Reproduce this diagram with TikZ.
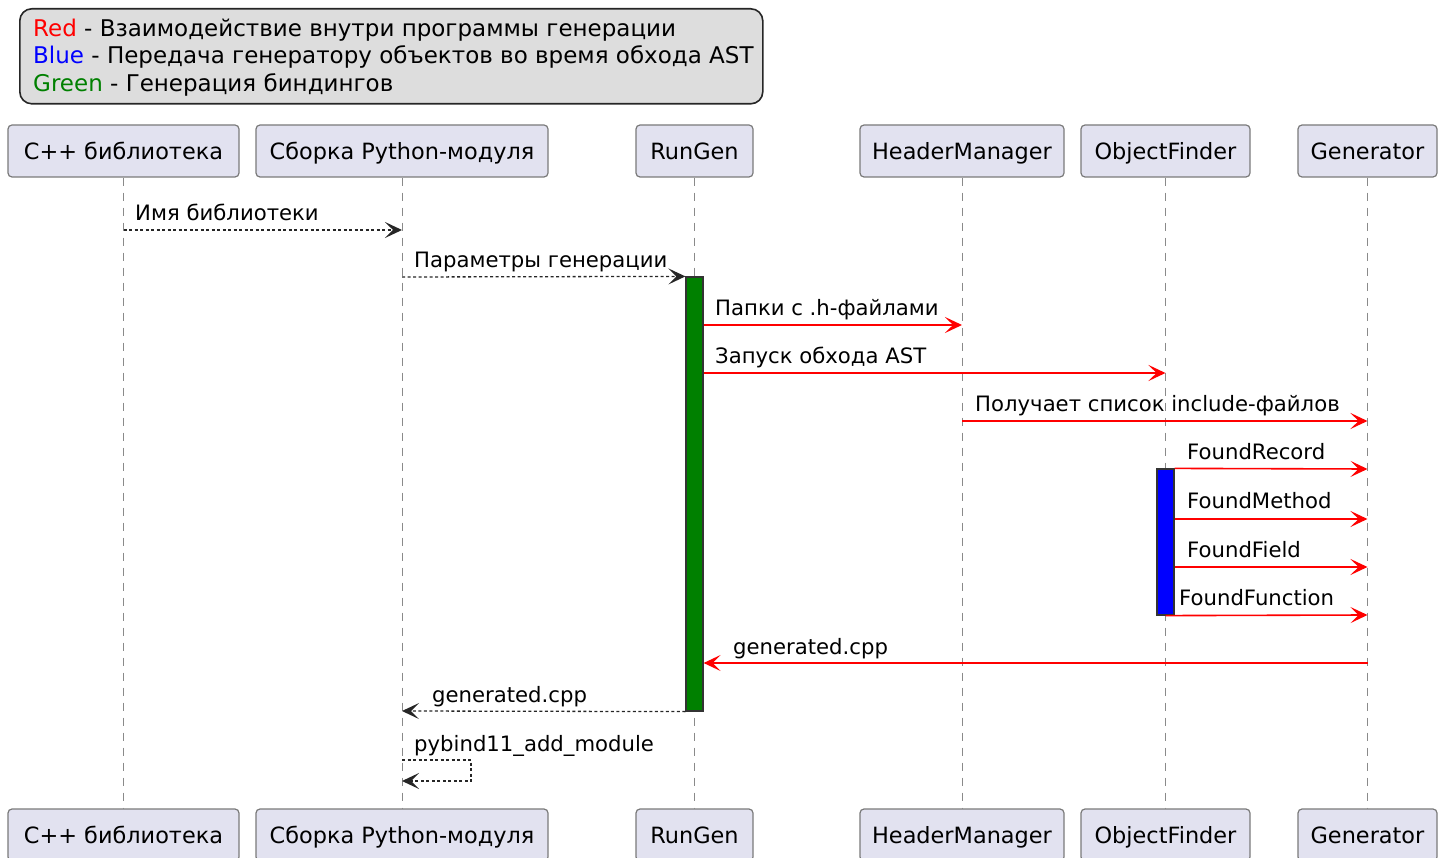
\documentclass[tikz,border=0pt]{standalone}
\usepackage{fontspec}
\setmainfont{DejaVu Sans}
\usetikzlibrary{arrows.meta}
\definecolor{partfill}{HTML}{E2E2F0}
\definecolor{partborder}{HTML}{7A7A7A}
\definecolor{lifegray}{HTML}{8A8A8A}
\definecolor{legfill}{HTML}{DDDDDD}
\definecolor{msgred}{HTML}{FF0000}
\definecolor{actgreen}{HTML}{008000}
\definecolor{actblue}{HTML}{0000FF}
\definecolor{txtred}{HTML}{FF0000}
\definecolor{txtblue}{HTML}{0000FF}
\definecolor{txtgreen}{HTML}{008000}
\tikzset{
  part/.style={draw=partborder, fill=partfill, line width=1.2pt, rounded corners=4pt,
    minimum height=52pt, inner sep=0pt, text height=22pt, text depth=5pt,
    font=\fontsize{22.4}{27}\selectfont},
  lifeline/.style={draw=lifegray, line width=1pt, dash pattern=on 8pt off 7pt},
  actbox/.style={draw=black!80, line width=1.2pt, minimum width=17pt, inner sep=0pt},
  tip/.style={-{Stealth[length=17pt, width=16pt, inset=8pt]}},
  rmsg/.style={tip, draw=msgred, line width=1.6pt},
  dmsg/.style={tip, draw=black!85, line width=1.3pt, dash pattern=on 3pt off 2.5pt},
  lbl/.style={anchor=base west, inner sep=0pt, font=\fontsize{21.2}{25}\selectfont},
  legtxt/.style={anchor=base west, inner sep=0pt, font=\fontsize{23}{27}\selectfont},
}
\begin{document}
\begin{tikzpicture}[x=1pt, y=-1pt]
\useasboundingbox (0,0) rectangle (1444,858);
% legend
\node[draw=black!85, fill=legfill, line width=1.6pt, rounded corners=12pt,
  minimum width=743pt, minimum height=95pt, inner sep=0pt, anchor=north west] (legend) at (19,8) {};
\node[legtxt] (leg1) at (33,36.5) {\textcolor{txtred}{Red} - Взаимодействие внутри программы генерации};
\node[legtxt] (leg2) at (33,64) {\textcolor{txtblue}{Blue} - Передача генератору объектов во время обхода AST};
\node[legtxt] (leg3) at (33,91.5) {\textcolor{txtgreen}{Green} - Генерация биндингов};
% participants top
\node[part, minimum width=231pt] (cpp) at (123.5,151) {C++ библиотека};
\node[part, minimum width=292pt] (sb) at (402,151) {Сборка Python-модуля};
\node[part, minimum width=117pt] (rg) at (694.5,151) {RunGen};
\node[part, minimum width=204pt] (hm) at (962,151) {HeaderManager};
\node[part, minimum width=169pt] (of) at (1165.5,151) {ObjectFinder};
\node[part, minimum width=139pt] (gen) at (1367.5,151) {Generator};
% participants bottom
\node[part, minimum width=231pt] (cppB) at (123.5,835) {C++ библиотека};
\node[part, minimum width=292pt] (sbB) at (402,835) {Сборка Python-модуля};
\node[part, minimum width=117pt] (rgB) at (694.5,835) {RunGen};
\node[part, minimum width=204pt] (hmB) at (962,835) {HeaderManager};
\node[part, minimum width=169pt] (ofB) at (1165.5,835) {ObjectFinder};
\node[part, minimum width=139pt] (genB) at (1367.5,835) {Generator};
% lifelines
\draw[lifeline] (cpp.south) -- (cppB.north);
\draw[lifeline] (sb.south) -- (sbB.north);
\draw[lifeline] (rg.south) -- (rgB.north);
\draw[lifeline] (hm.south) -- (hmB.north);
\draw[lifeline] (of.south) -- (ofB.north);
\draw[lifeline] (gen.south) -- (genB.north);
% activations
\node[actbox, fill=actgreen, minimum height=434pt] (actR) at (694.5,494) {};
\node[actbox, fill=actblue, minimum height=146pt] (actO) at (1165.5,542) {};
% messages
\draw[dmsg] (cpp.south |- 0,230) -- (sb.south |- 0,230);
\node[lbl] (m1) at (135,221) {Имя библиотеки};
\draw[dmsg] (sb.south |- 0,277) -- (actR.north west);
\node[lbl] (m2) at (414,268) {Параметры генерации};
\draw[rmsg] (actR.east |- 0,325) -- (hm.south |- 0,325);
\node[lbl] (m3) at (715,316) {Папки с .h-файлами};
\draw[rmsg] (actR.east |- 0,373) -- (of.south |- 0,373);
\node[lbl] (m4) at (715,364) {Запуск обхода AST};
\draw[rmsg] (hm.south |- 0,421) -- (gen.south |- 0,421);
\node[lbl] (m5) at (975,412) {Получает список include-файлов};
\draw[rmsg] (actO.north east) -- (gen.south |- 0,469);
\node[lbl] (m6) at (1187,460) {FoundRecord};
\draw[rmsg] (actO.east |- 0,519) -- (gen.south |- 0,519);
\node[lbl] (m7) at (1187,509) {FoundMethod};
\draw[rmsg] (actO.east |- 0,567) -- (gen.south |- 0,567);
\node[lbl] (m8) at (1187,557) {FoundField};
\draw[rmsg] (actO.south) -- (gen.south |- 0,615);
\node[lbl] (m9) at (1179,605) {FoundFunction};
\draw[rmsg] (gen.south |- 0,663) -- (actR.east |- 0,663);
\node[lbl] (m10) at (733,654) {generated.cpp};
\draw[dmsg] (actR.south west) -- (sb.south |- 0,711);
\node[lbl] (m11) at (432,702) {generated.cpp};
\coordinate (selfR) at (471,760);
\draw[dmsg] (sb.south |- 0,760) -- (selfR) -- (selfR |- 0,781) -- (sb.south |- 0,781);
\node[lbl] (m12) at (414,751) {pybind11\_add\_module};
\end{tikzpicture}
\end{document}
